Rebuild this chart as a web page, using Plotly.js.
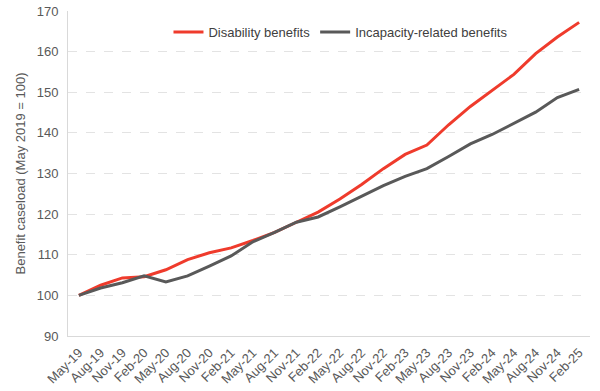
<!DOCTYPE html>
<html>
<head>
<meta charset="utf-8">
<script src="https://cdn.plot.ly/plotly-3.0.1.min.js"></script>
<style>html,body{margin:0;padding:0;background:#fff;}#chart{width:600px;height:391px;}</style>
</head>
<body>
<div id="chart"></div>
<script>
const quarters = ["May-19","Aug-19","Nov-19","Feb-20","May-20","Aug-20","Nov-20","Feb-21","May-21","Aug-21","Nov-21","Feb-22","May-22","Aug-22","Nov-22","Feb-23","May-23","Aug-23","Nov-23","Feb-24","May-24","Aug-24","Nov-24","Feb-25"];
const disability = [100,102.5,104.3,104.6,106.3,108.8,110.5,111.7,113.5,115.5,118,120.5,123.7,127.3,131.2,134.7,137.0,142.0,146.5,150.5,154.4,159.5,163.6,167.2];
const incapacity = [100,101.8,103.1,104.8,103.3,104.8,107.2,109.7,113.2,115.5,118,119.3,121.8,124.5,127.0,129.3,131.2,134.2,137.3,139.6,142.4,145.1,148.7,150.7];

const traces = [
  {x: quarters, y: disability, type: 'scatter', mode: 'lines', name: 'Disability benefits',
   line: {color: '#ef3b2c', width: 3}},
  {x: quarters, y: incapacity, type: 'scatter', mode: 'lines', name: 'Incapacity-related benefits',
   line: {color: '#595959', width: 3}}
];
const layout = {
  width: 600, height: 391,
  margin: {l: 68, r: 10, t: 11, b: 55},
  paper_bgcolor: '#fff', plot_bgcolor: '#fff',
  font: {family: 'Liberation Sans, Arial, sans-serif', size: 12, color: '#595959'},
  showlegend: true,
  legend: {orientation: 'h', x: 0.522, xanchor: 'center', y: 0.935, yanchor: 'middle',
           font: {size: 13, color: '#404040'}, bgcolor: 'rgba(0,0,0,0)'},
  xaxis: {type: 'category', range: [-0.5, quarters.length - 0.5], tickangle: -45, showgrid: false,
          showline: true, linecolor: '#d9d9d9', linewidth: 1, ticklabelstandoff: 3,
          ticks: '', tickfont: {size: 13, color: '#595959'}, zeroline: false},
  yaxis: {range: [90, 170], dtick: 10, showgrid: true, gridcolor: '#e3e3e3', griddash: 'dash', gridwidth: 1,
          showline: true, linecolor: '#d9d9d9', linewidth: 1, ticks: '', zeroline: false,
          ticklabelstandoff: 6,
          tickfont: {size: 13, color: '#595959'},
          title: {text: 'Benefit caseload (May 2019 = 100)', font: {size: 13, color: '#595959'}, standoff: 8}}
};
Plotly.newPlot('chart', traces, layout, {displayModeBar: false, staticPlot: true});
</script>
</body>
</html>
